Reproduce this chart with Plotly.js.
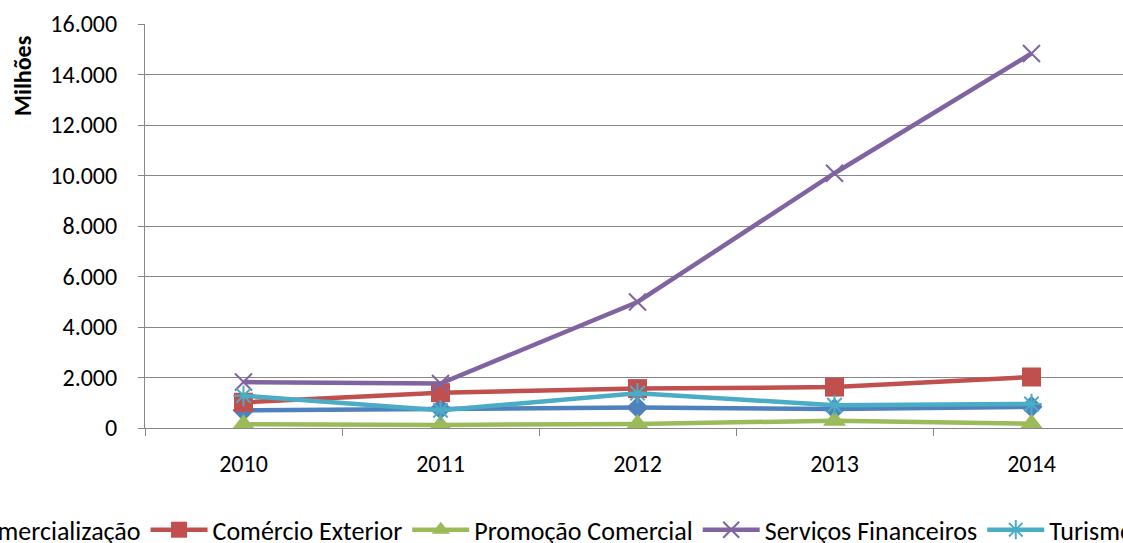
<!DOCTYPE html>
<html>
<head>
<meta charset="utf-8">
<script src="https://cdn.plot.ly/plotly-3.0.1.min.js"></script>
<style>
html,body{margin:0;padding:0;overflow:hidden;background:#fff;width:1123px;height:543px;}
#chart{position:absolute;left:-200px;top:0;width:1600px;height:543px;}
</style>
</head>
<body>
<div id="chart"></div>
<script>
const years = ['2010','2011','2012','2013','2014'];
const comercializacao = [700, 760, 810, 750, 840];
const comercioExterior = [1020, 1400, 1560, 1620, 2020];
const promocaoComercial = [150, 120, 160, 290, 170];
const servicosFinanceiros = [1820, 1760, 4990, 10090, 14830];
const turismo = [1280, 700, 1380, 900, 950];
const yTicks = [0, 2000, 4000, 6000, 8000, 10000, 12000, 14000, 16000];

const FONT = 'Carlito, Lato, "Liberation Sans", sans-serif';

function series(name, y, color, symbol, size, open) {
  const marker = {symbol: symbol, size: size, color: color};
  if (open) marker.line = {color: color, width: 2};
  return {type: 'scatter', mode: 'lines+markers', name: name, x: years, y: y,
    line: {color: color, width: 4.5}, marker: marker};
}

const data = [
  series('Comercialização', comercializacao, '#4F81BD', 'diamond', 17, false),
  series('Comércio Exterior', comercioExterior, '#C0504D', 'square', 19, false),
  series('Promoção Comercial', promocaoComercial, '#9BBB59', 'triangle-up', 20, false),
  series('Serviços Financeiros', servicosFinanceiros, '#8064A2', 'x-thin-open', 17, true),
  series('Turismo', turismo, '#4BACC6', 'asterisk-open', 17, true)
];

const layout = {
  width: 1600, height: 543,
  margin: {l: 345, r: 270, t: 24, b: 115, autoexpand: false},
  paper_bgcolor: '#ffffff', plot_bgcolor: '#ffffff',
  separators: ',.',
  font: {family: FONT, size: 24, color: '#000000'},
  showlegend: true,
  legend: {orientation: 'h', x: -0.2457, xanchor: 'left', y: -0.252, yanchor: 'middle',
    font: {family: FONT, size: 26, color: '#000000'}, traceorder: 'normal', itemwidth: 57},
  xaxis: {type: 'category', range: [-0.5, 4.5], autorange: false, tickson: 'boundaries',
    ticks: 'outside', ticklen: 7,
    tickcolor: '#878787', showline: true, linecolor: '#878787', linewidth: 1,
    showgrid: false, zeroline: false, ticklabelstandoff: 14,
    tickfont: {family: FONT, size: 24, color: '#000000'}},
  yaxis: {range: [0, 16000], autorange: false, tickvals: yTicks, tickformat: ',d',
    ticks: 'outside', ticklen: 6,
    tickcolor: '#878787', showline: true, linecolor: '#878787', linewidth: 1,
    showgrid: true, gridcolor: '#878787', gridwidth: 1, zeroline: false,
    ticklabelstandoff: 16,
    tickfont: {family: FONT, size: 24, color: '#000000'}},
  annotations: [{text: '<b>Milhões</b>', xref: 'paper', yref: 'paper',
    x: -0.125, y: 0.871, xanchor: 'center', yanchor: 'middle', textangle: -90,
    showarrow: false, font: {family: FONT, size: 24, color: '#000000'}}]
};

Plotly.newPlot('chart', data, layout, {displayModeBar: false, staticPlot: true});
</script>
</body>
</html>
